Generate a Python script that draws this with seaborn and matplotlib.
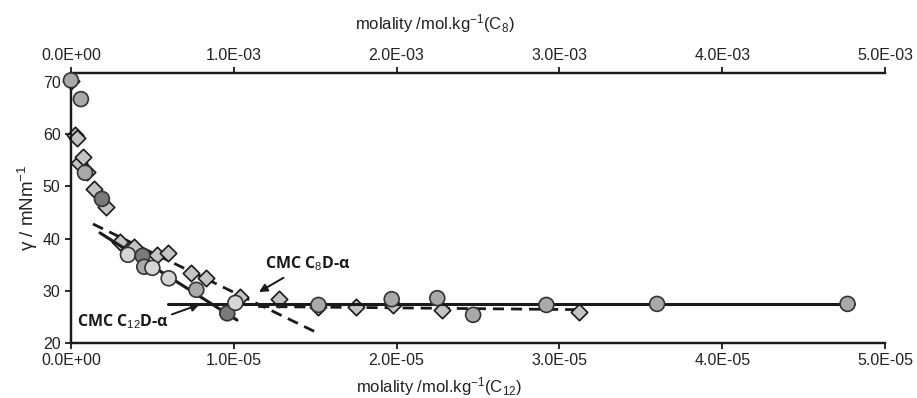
import matplotlib
matplotlib.use("Agg")
import matplotlib.pyplot as plt
import pandas as pd
import seaborn as sns

# C12D-alpha (bottom axis), circles
c12_molality = [0.0, 0.61e-6, 0.86e-6, 1.9e-6, 3.5e-6, 4.4e-6, 4.5e-6, 5.0e-6, 6.0e-6,
                7.7e-6, 9.6e-6, 10.1e-6, 15.2e-6, 19.7e-6, 22.5e-6, 24.7e-6,
                29.2e-6, 36.0e-6, 47.7e-6]
c12_gamma = [70.3, 66.7, 52.6, 47.6, 36.9, 36.7, 34.6, 34.4, 32.4,
             30.2, 25.7, 27.7, 27.3, 28.4, 28.6, 25.4,
             27.3, 27.5, 27.5]
c12_run = ["b", "b", "b", "c", "a", "c", "b", "a", "a",
           "b", "c", "a", "b", "b", "b", "b",
           "b", "b", "b"]

# C8D-alpha (top axis), diamonds
c8_molality = [0.0, 0.025e-3, 0.037e-3, 0.05e-3, 0.074e-3, 0.098e-3, 0.14e-3, 0.215e-3,
               0.30e-3, 0.39e-3, 0.53e-3, 0.595e-3, 0.74e-3, 0.83e-3, 1.04e-3,
               1.28e-3, 1.52e-3, 1.75e-3, 1.98e-3, 2.28e-3, 3.12e-3]
c8_gamma = [70.1, 59.8, 59.2, 54.5, 55.6, 52.8, 49.5, 46.1,
            39.3, 38.4, 36.9, 37.2, 33.4, 32.5, 28.8,
            28.4, 26.9, 26.9, 27.3, 26.3, 26.0]

# fitted lines
c12_fit1_x = [1.78e-6, 10.2e-6]
c12_fit1_y = [41.1, 24.4]
c12_fit2_x = [5.95e-6, 48.1e-6]
c12_fit2_y = [27.4, 27.4]
c8_fit1_x = [0.135e-3, 1.53e-3]
c8_fit1_y = [42.8, 21.7]
c8_fit2_x = [1.15e-3, 3.12e-3]
c8_fit2_y = [27.0, 26.4]

df12 = pd.DataFrame({"m": c12_molality, "g": c12_gamma, "run": c12_run})
df8 = pd.DataFrame({"m": c8_molality, "g": c8_gamma})

sns.set_style("ticks")
plt.rcParams["font.family"] = ["Liberation Sans", "DejaVu Sans"]
plt.rcParams["mathtext.fontset"] = "custom"
plt.rcParams["mathtext.rm"] = "Liberation Sans"
plt.rcParams["mathtext.it"] = "Liberation Sans"

fig = plt.figure(figsize=(9.17, 3.98), dpi=100)
ax = fig.add_axes([0.0774, 0.138, 0.8877, 0.6786])
ax2 = ax.twiny()

ink = "#1a1a1a"
for a in (ax, ax2):
    for s in a.spines.values():
        s.set_color(ink)
        s.set_linewidth(1.6)
    a.spines["right"].set_visible(False)
    a.tick_params(colors=ink, labelcolor="#222222", labelsize=11.5, length=4, width=1.3)

# fit lines
sns.lineplot(x=c12_fit1_x, y=c12_fit1_y, ax=ax, color=ink, lw=2.2, zorder=2)
sns.lineplot(x=c12_fit2_x, y=c12_fit2_y, ax=ax, color=ink, lw=2.2, zorder=2)
sns.lineplot(x=c8_fit1_x, y=c8_fit1_y, ax=ax2, color=ink, lw=2.0, ls=(0, (4, 2.5)), zorder=2)
sns.lineplot(x=c8_fit2_x, y=c8_fit2_y, ax=ax2, color=ink, lw=2.0, ls=(0, (4, 2.5)), zorder=2)

sns.scatterplot(data=df8, x="m", y="g", ax=ax2, marker="D", s=70, color="#c4c4c4",
                edgecolor=ink, linewidth=1.2, zorder=3, legend=False, clip_on=False)
sns.scatterplot(data=df12, x="m", y="g", hue="run", ax=ax, marker="o", s=115,
                palette={"a": "#d6d6d6", "b": "#a9a9a9", "c": "#7a7a7a"},
                edgecolor="#333333", linewidth=1.2, zorder=4, legend=False, clip_on=False)
ax.set_zorder(ax2.get_zorder() + 1)
ax.patch.set_visible(False)

ax.set_xlim(0, 5e-5)
ax2.set_xlim(0, 5e-3)
ax.set_ylim(20, 71.7)
ax.set_xticks([0, 1e-5, 2e-5, 3e-5, 4e-5, 5e-5])
ax2.set_xticks([0, 1e-3, 2e-3, 3e-3, 4e-3, 5e-3])
ax.set_xticklabels(["%.1E" % v for v in ax.get_xticks()])
ax2.set_xticklabels(["%.1E" % v for v in ax2.get_xticks()])
ax.set_yticks([20, 30, 40, 50, 60, 70])

ax.set_xlabel("molality /mol.kg$^{-1}$(C$_{12}$)", fontsize=12, color="#222222", labelpad=0)
ax.xaxis.set_label_coords(0.452, -0.118)
ax2.set_xlabel("molality /mol.kg$^{-1}$(C$_{8}$)", fontsize=12, color="#222222", labelpad=0)
ax2.xaxis.set_label_coords(0.447, 1.16)
ax.set_ylabel("γ / mNm$^{-1}$", fontsize=13.5, color="#222222", labelpad=2)

ann = dict(fontsize=11.5, fontweight="bold", color=ink, family=["Open Sans", "DejaVu Sans"])
ax.annotate("CMC C$_{8}$D-α", xy=(11.4e-6, 29.5), xytext=(11.9e-6, 34.3),
            arrowprops=dict(arrowstyle="-|>", color=ink, lw=1.4, mutation_scale=12),
            **ann)
ax.annotate("CMC C$_{12}$D-α", xy=(7.9e-6, 27.4), xytext=(0.35e-6, 23.3),
            arrowprops=dict(arrowstyle="-|>", color=ink, lw=1.4, mutation_scale=12,
                            shrinkA=0, shrinkB=0, relpos=(1.0, 0.8)),
            **ann)

fig.savefig("out.png", dpi=100)
